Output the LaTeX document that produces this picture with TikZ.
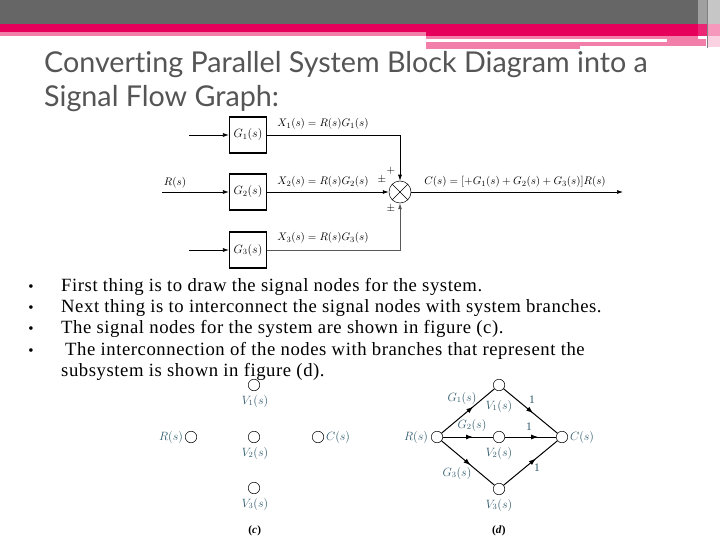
\documentclass[tikz,border=0pt]{standalone}
\usepackage{fontspec}
\setmainfont[LetterSpace=3]{Liberation Serif}
\newfontfamily\titlefont[Ligatures=NoCommon]{Lato}
\usetikzlibrary{arrows.meta,decorations.markings}

\definecolor{barGray}{HTML}{666666}
\definecolor{barRed}{HTML}{E6005C}
\definecolor{barPink}{HTML}{F27EAA}
\definecolor{titleGray}{HTML}{555555}
\definecolor{tealText}{HTML}{2F5A6B}

\tikzset{
	blockbox/.style={draw, line width=1.2pt, minimum width=37pt, minimum height=36pt, inner sep=0pt, font=\fontsize{11.5}{13}\selectfont},
	conn/.style={line width=0.7pt, -{Latex[length=6pt,width=4pt]}},
	signode/.style={circle, draw, line width=0.5pt, minimum size=11.5pt, inner sep=0pt},
	eqlabel/.style={font=\fontsize{11.2}{13}\selectfont, inner sep=0pt},
	graphlabel/.style={font=\fontsize{11.5}{13}\selectfont, inner sep=0pt, text=tealText},
	bullettext/.style={font=\fontsize{18.7}{20}\selectfont, anchor=base west, inner sep=0pt, text=black},
	titletext/.style={font=\titlefont\fontsize{28.7}{34}\selectfont, text=titleGray, anchor=base west, inner sep=0pt},
	midarrow/.style={line width=1pt, decoration={markings, mark=at position #1 with {\arrow{Latex[length=7pt,width=5pt]}}}, postaction={decorate}}
}

\begin{document}
\begin{tikzpicture}[x=1pt,y=-1pt]
\useasboundingbox (0,0) rectangle (720,540);

% Franja superior
\fill[barGray] (0,0) rectangle (698,24);
\fill[barRed] (0,24) rectangle (698,32);
\fill[barPink] (0,32) rectangle (426,36);
\fill[barRed] (426,32) rectangle (698,36);
\fill[barPink] (426,36) rectangle (698,39);
\fill[barPink] (426,42) rectangle (580,49);
\fill[barPink] (580,42) rectangle (706,46);
\fill[barPink] (667,39) rectangle (706,42);
\fill[gray!75] (698,0) rectangle (708,24);
\fill[gray!45] (708,0) rectangle (720,24);
\fill[barRed!85] (698,24) rectangle (708,36);
\fill[barPink!80] (708,24) rectangle (720,36);
\fill[barPink!35] (708,36) rectangle (720,47);
\draw[gray, line width=0.6pt] (707,0) -- (707,48);

% Titulo
\node[titletext] (title1) at (44,73) {Converting Parallel System Block Diagram into a};
\node[titletext] (title2) at (44,107) {Signal Flow Graph:};

% Diagrama de bloques
\foreach \n/\y in {1/135, 2/192, 3/250}
	\node[blockbox] (G\n) at (248,\y) {$G_{\n}(s)$};

\node[circle, draw, line width=0.5pt, minimum size=22pt, inner sep=0pt] (sum) at (400,192) {};
\draw[line width=0.5pt] (sum.north west) -- (sum.south east);
\draw[line width=0.5pt] (sum.north east) -- (sum.south west);

\coordinate (in1) at (189,135);
\coordinate (in2) at (162,192);
\coordinate (in3) at (189,250);
\coordinate (out) at (623,192);

\foreach \n in {1, 2, 3}
	\draw[conn] (in\n) -- (G\n);

\draw[conn] (G1) -| (sum);
\draw[conn] (G2) -- (sum);
\draw[conn, black!65] (G3) -| (sum);
\draw[conn] (sum) -- (out);

\node[eqlabel] (rin) at (175,183) {$R(s)$};
\foreach \n/\y in {1/124, 2/182, 3/238}
	\node[eqlabel] (X\n) at (323,\y) {$X_{\n}(s) = R(s)G_{\n}(s)$};
\node[eqlabel] (cout) at (515,182) {$C(s) = [+G_1(s) + G_2(s) + G_3(s)]R(s)$};
\node[eqlabel] (plus1) at (391,171) {$+$};
\node[eqlabel] (pm2) at (382,180) {$\pm$};
\node[eqlabel] (pm3) at (391,209) {$\pm$};

% Viñetas
\foreach \y in {291, 312, 333, 355}
	\node[font=\fontsize{15}{18}\selectfont, anchor=base, inner sep=0pt] at (31,\y) {•};
\node[bullettext] (b1) at (61,291.5) {First thing is to draw the signal nodes for the system.};
\node[bullettext] (b2) at (61,312.5) {Next thing is to interconnect the signal nodes with system branches.};
\node[bullettext] (b3) at (61,333.5) {The signal nodes for the system are shown in figure (c).};
\node[bullettext] (b4) at (65,355) {The interconnection of the nodes with branches that represent the};
\node[bullettext] (b5) at (61,376) {subsystem is shown in figure (d).};

% Figura (c)
\foreach \n/\y in {1/385, 2/437, 3/488} {
	\node[signode] (cV\n) at (254,\y) {};
	\node[graphlabel] (cVl\n) at (255,\y+16) {$V_{\n}(s)$};
}
\node[signode] (cR) at (191,437) {};
\node[signode] (cC) at (318,437) {};
\node[graphlabel] (cRl) at (171,437) {$R(s)$};
\node[graphlabel] (cCl) at (338,437) {$C(s)$};
\node[eqlabel] (capc) at (255,531) {\textbf{(\textit{c})}};

% Figura (d)
\foreach \n/\y in {1/385, 2/437, 3/489}
	\node[signode] (dV\n) at (499,\y) {};
\node[signode] (dR) at (437,437) {};
\node[signode] (dC) at (562,437) {};

\draw[midarrow=0.6] (dR) -- (dV1);
\draw[midarrow=0.6] (dR) -- (dV2);
\draw[midarrow=0.55] (dR) -- (dV3);
\draw[midarrow=0.55] (dV1) -- (dC);
\draw[midarrow=0.65] (dV2) -- (dC);
\draw[midarrow=0.6] (dV3) -- (dC);

\node[graphlabel] (dRl) at (416,437) {$R(s)$};
\node[graphlabel] (dCl) at (582,437) {$C(s)$};
\node[graphlabel] (dG1) at (462,398) {$G_1(s)$};
\node[graphlabel] (dG2) at (472,425) {$G_2(s)$};
\node[graphlabel] (dG3) at (457,473) {$G_3(s)$};
\node[graphlabel] (dVl1) at (499,406) {$V_1(s)$};
\node[graphlabel] (dVl2) at (499,453) {$V_2(s)$};
\node[graphlabel] (dVl3) at (499,505) {$V_3(s)$};
\node[graphlabel] (one1) at (532,400) {1};
\node[graphlabel] (one2) at (529,427) {1};
\node[graphlabel] (one3) at (537,468) {1};
\node[eqlabel] (capd) at (499,531) {\textbf{(\textit{d})}};
\end{tikzpicture}
\end{document}
